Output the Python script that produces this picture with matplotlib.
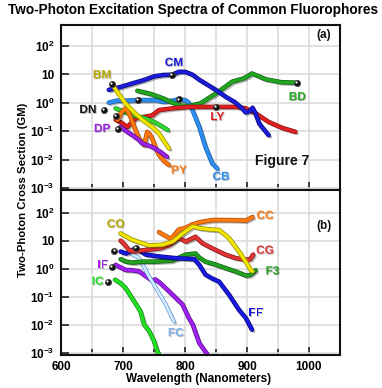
import matplotlib
matplotlib.use('Agg')
import matplotlib.pyplot as plt
import matplotlib.patheffects as pe
import matplotlib.transforms as mtransforms
from matplotlib.ticker import FixedLocator, FuncFormatter

plt.rcParams['font.family'] = ['Liberation Sans', 'DejaVu Sans']
plt.rcParams['font.weight'] = 'bold'
plt.rcParams['mathtext.fontset'] = 'custom'
plt.rcParams['mathtext.rm'] = 'Liberation Sans:bold'
plt.rcParams['mathtext.bf'] = 'Liberation Sans:bold'

# ---- panel (a) data: wavelength (nm), cross section (GM)
cm_x = [677, 695, 715, 735, 750, 765, 779, 790, 800, 812, 823, 838, 850, 866, 880, 892, 898, 904, 909, 914, 920, 928, 935]
cm_y = [2.8, 3.5, 4.7, 6.3, 8.3, 9.3, 9.5, 12.0, 12.0, 9.5, 6.3, 4.0, 2.75, 1.58, 1.05, 0.63, 0.45, 0.5, 0.66, 0.4, 0.18, 0.11, 0.072]
bd_x = [723, 745, 765, 790, 806, 825, 850, 876, 895, 908, 930, 955, 981]
bd_y = [2.6, 2.0, 1.4, 0.8, 0.76, 0.95, 2.1, 5.4, 7.1, 10.5, 6.6, 5.2, 5.0]
cb_x = [677, 690, 704, 724, 753, 764, 774, 790, 800, 806, 812, 823, 833, 844, 852]
cb_y = [1.0, 1.17, 1.17, 1.23, 1.23, 1.07, 1.12, 1.29, 1.23, 1.0, 0.55, 0.14, 0.028, 0.0074, 0.0049]
ly_x = [688, 697, 707, 720, 735, 747, 758, 779, 806, 830, 850, 882, 898, 914, 935, 957, 978]
ly_y = [0.25, 0.2, 0.14, 0.28, 0.32, 0.36, 0.55, 0.63, 0.71, 0.71, 0.71, 0.71, 0.63, 0.42, 0.21, 0.13, 0.095]
bm_x = [682, 693, 704, 718, 731, 740, 747, 758, 766, 774]
bm_y = [4.5, 2.0, 0.93, 0.45, 0.25, 0.18, 0.14, 0.083, 0.045, 0.025]
dn_x = [688, 705, 720, 735, 750, 762, 772]
dn_y = [0.63, 0.45, 0.35, 0.28, 0.21, 0.15, 0.11]
dp_x = [691, 696, 705, 715, 725, 731, 740, 747, 760, 771]
dp_y = [0.12, 0.14, 0.1, 0.072, 0.05, 0.037, 0.032, 0.028, 0.019, 0.0126]
py_x = [691, 697, 704, 710, 715, 720, 726, 734, 737, 739, 743, 747, 752, 758, 766, 774]
py_y = [0.25, 0.45, 0.63, 0.4, 0.21, 0.11, 0.055, 0.032, 0.063, 0.095, 0.079, 0.055, 0.028, 0.0145, 0.0089, 0.0065]
dots_a_x = [682, 779, 724, 790, 850, 981, 669, 688, 691]
dots_a_y = [4.5, 9.5, 1.23, 1.29, 0.71, 5.0, 0.55, 0.34, 0.12]

# ---- panel (b) data
cc_x = [758, 768, 777, 790, 800, 812, 823, 844, 871, 898, 909]
cc_y = [20, 15, 11.5, 25, 28, 38, 45, 54, 54, 52, 69]
co_x = [696, 705, 715, 730, 742, 763, 780, 790, 796, 812, 823, 840, 855, 871, 887, 898, 906, 909]
co_y = [18, 14, 10.7, 8.3, 6.8, 7.1, 9.3, 14, 18, 32, 28, 25, 24, 12.3, 4.1, 1.8, 0.91, 0.81]
cg_x = [696, 703, 710, 720, 740, 760, 775, 790, 801, 817, 828, 845, 865, 882, 898, 905, 910]
cg_y = [10, 7.1, 4.5, 4.2, 4.8, 5.4, 7.1, 12.6, 9.3, 13.8, 8.1, 5.2, 3.2, 2.4, 2.1, 2.2, 3.2]
f3_x = [696, 705, 715, 731, 750, 779, 790, 801, 817, 823, 833, 850, 866, 882, 898, 905, 914]
f3_y = [2.2, 1.8, 1.66, 1.8, 1.8, 1.95, 2.5, 3.2, 3.5, 2.5, 1.8, 1.4, 1.05, 0.8, 0.58, 0.6, 0.89]
ff_x = [696, 705, 720, 737, 758, 785, 815, 823, 833, 844, 855, 871, 887, 898, 908]
ff_y = [4.1, 3.5, 5.4, 3.2, 2.75, 2.4, 2.2, 1.38, 0.62, 0.45, 0.35, 0.12, 0.035, 0.018, 0.0069]
fc_x = [712, 725, 733, 740, 753, 769, 782]
fc_y = [3.5, 2.5, 1.26, 0.63, 0.21, 0.054, 0.0135]
if_x = [688, 704, 715, 726, 737, 747, 752, 758, 774, 796, 806, 812, 823, 836]
if_y = [1.38, 0.91, 0.89, 0.81, 0.54, 0.38, 0.42, 0.34, 0.16, 0.054, 0.018, 0.011, 0.0023, 0.00091]
ic_x = [687, 695, 704, 718, 728, 734, 742, 750, 755, 758]
ic_y = [0.41, 0.32, 0.21, 0.069, 0.031, 0.0105, 0.0062, 0.0027, 0.0012, 0.00091]
dots_b_x = [686, 721, 682, 676]
dots_b_y = [4.4, 5.4, 1.2, 0.34]

xticks = [600, 700, 800, 900, 1000]
decades = [1e-3, 1e-2, 1e-1, 1e0, 1e1, 1e2]
dec_labels = {1e-3: r'$10^{-3}$', 1e-2: r'$10^{-2}$', 1e-1: r'$10^{-1}$',
              1e0: r'$10^{0}$', 1e1: '10', 1e2: r'$10^{2}$'}


def curve(ax, x, y, color, edge, lw=2.3):
    ax.plot(x, y, color=color, lw=lw, solid_capstyle='round', solid_joinstyle='round',
            path_effects=[pe.SimpleLineShadow(offset=(1.3, -1.3), shadow_color='k', alpha=0.3),
                          pe.Stroke(linewidth=lw + 1.0, foreground=edge),
                          pe.Normal()])


def label(ax, x, y, s, color, size=8.5):
    ax.text(x, y, s, color=color, fontsize=size, fontweight='bold', ha='center', va='center',
            path_effects=[pe.withSimplePatchShadow(offset=(0.7, -0.7), shadow_rgbFace='k', alpha=0.25)])


def dots(ax, x, y):
    ax.scatter(x, y, s=20, color='#111111', edgecolor='#444444', linewidth=0.5, zorder=10)
    hl = mtransforms.offset_copy(ax.transData, fig=ax.figure, x=-0.8, y=0.8, units='dots')
    ax.scatter(x, y, s=2.5, color='white', transform=hl, zorder=11, linewidth=0)


def style(ax, ylog_top, show_x):
    ax.set_yscale('log')
    ax.set_xlim(600, 1050)
    ax.set_ylim(10 ** -3.06, 10 ** ylog_top)
    ax.xaxis.set_major_locator(FixedLocator(xticks))
    ax.xaxis.set_minor_locator(FixedLocator([650, 750, 850, 950]))
    ax.yaxis.set_major_locator(FixedLocator(decades))
    ax.yaxis.set_minor_locator(FixedLocator([]))
    ax.yaxis.set_major_formatter(FuncFormatter(lambda v, p: dec_labels.get(v, '')))
    ax.grid(True, which='both', color='#dcdcdc', lw=1.2)
    ax.set_axisbelow(True)
    ax.tick_params(which='both', direction='in', length=6, width=1.2, color='#222222',
                   labelsize=8.5, pad=5, top=False, right=False)
    ax.tick_params(axis='x', which='minor', length=4)
    ax.tick_params(axis='x', labelbottom=show_x, pad=4)
    for sp in ax.spines.values():
        sp.set_linewidth(1.5)
        sp.set_color('#111111')


fig = plt.figure(figsize=(3.82, 3.88), dpi=100)
ax1 = fig.add_axes([0.160, 0.5103, 0.730, 0.4253])
ax2 = fig.add_axes([0.160, 0.085, 0.730, 0.4253])
style(ax1, 2.72, False)
style(ax2, 2.80, True)

# panel (a)
curve(ax1, cb_x, cb_y, '#2e8ff0', '#1560b0')
curve(ax1, bd_x, bd_y, '#22a622', '#116611')
curve(ax1, ly_x, ly_y, '#e02020', '#901010')
curve(ax1, cm_x, cm_y, '#1c1cd8', '#0a0a80')
curve(ax1, dn_x, dn_y, '#33d633', '#178a17')
curve(ax1, py_x, py_y, '#ff7a10', '#b04a00')
curve(ax1, dp_x, dp_y, '#9a22e6', '#5a0f90')
curve(ax1, bm_x, bm_y, '#f2e600', '#8f8600')
dots(ax1, dots_a_x, dots_a_y)

label(ax1, 666, 9.1, 'BM', '#b8a800')
label(ax1, 782, 24.5, 'CM', '#1c1cd8')
label(ax1, 643, 0.55, 'DN', '#111111')
label(ax1, 666, 0.12, 'DP', '#9a22e6')
label(ax1, 852, 0.31, 'LY', '#e02020')
label(ax1, 981, 1.55, 'BD', '#22a622')
label(ax1, 790, 0.0042, 'PY', '#ff7a10')
label(ax1, 858, 0.0025, 'CB', '#2e8ff0')
ax1.text(956, 0.009, 'Figure 7', fontsize=10, fontweight='bold', ha='center', va='center', color='#111111')
ax1.text(1024, 234, '(a)', fontsize=8.5, fontweight='bold', ha='center', va='center', color='#111111')

# panel (b)
curve(ax2, ic_x, ic_y, '#22e022', '#118811')
curve(ax2, if_x, if_y, '#a020f0', '#5a0f90')
curve(ax2, fc_x, fc_y, '#d8ecff', '#5a9ae0', lw=1.8)
curve(ax2, f3_x, f3_y, '#22a022', '#0f600f')
curve(ax2, ff_x, ff_y, '#1818e0', '#0a0a80')
curve(ax2, cg_x, cg_y, '#e03434', '#8a1414')
curve(ax2, cc_x, cc_y, '#ff7a10', '#b04a00')
curve(ax2, co_x, co_y, '#f2e600', '#8f8600')
dots(ax2, dots_b_x, dots_b_y)

label(ax2, 688, 38, 'CO', '#b8a800')
label(ax2, 929, 76, 'CC', '#ff7a10')
label(ax2, 929, 4.4, 'CG', '#e03434')
label(ax2, 941, 0.81, 'F3', '#22a022')
label(ax2, 667, 1.38, 'IF', '#a020f0')
label(ax2, 659, 0.35, 'IC', '#22e022')
label(ax2, 914, 0.027, 'FF', '#1818e0')
label(ax2, 785, 0.0052, 'FC', '#80b0f0')
ax2.text(1024, 32, '(b)', fontsize=8.5, fontweight='bold', ha='center', va='center', color='#111111')

fig.text(0.505, 0.974, 'Two-Photon Excitation Spectra of Common Fluorophores',
         fontsize=9.8, fontweight='bold', ha='center', va='center')
fig.text(0.52, 0.023, 'Wavelength (Nanometers)', fontsize=8.5, fontweight='bold',
         ha='center', va='center')
fig.text(0.06, 0.51, 'Two-Photon Cross Section (GM)', fontsize=8.2, fontweight='bold',
         ha='center', va='center', rotation=90)

fig.savefig('out.png', dpi=100)
